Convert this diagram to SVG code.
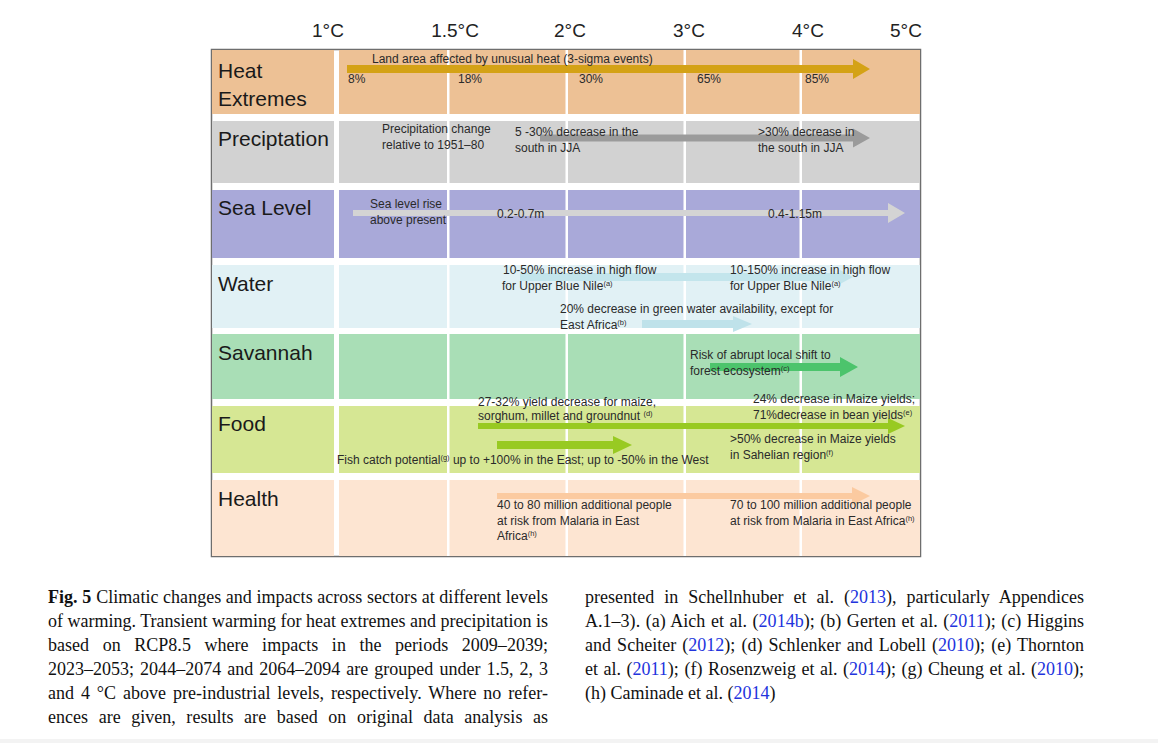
<svg xmlns="http://www.w3.org/2000/svg" width="1158" height="743" viewBox="0 0 1158 743">
<style>
.ax{font-family:"Liberation Sans",Arial,sans-serif;font-size:19px;fill:#222;text-anchor:middle}
.rl{font-family:"Liberation Sans",Arial,sans-serif;font-size:21px;fill:#1a1a1a}
.t{font-family:"Liberation Sans",Arial,sans-serif;font-size:12px;fill:#2a2a2a}
.sup{font-size:7.5px}
.cap{font-family:"Liberation Serif","Times New Roman",serif;font-size:18px;fill:#111}
.lk{fill:#2233dd}
.vl{fill:#ffffff}
</style>
<rect x="0" y="0" width="1158" height="743" fill="#ffffff"/>
<rect x="0" y="739" width="1158" height="4" fill="#f3f3f3"/>

<g id="axis">
<text class="ax" x="328" y="37">1°C</text>
<text class="ax" x="455" y="37">1.5°C</text>
<text class="ax" x="570" y="37">2°C</text>
<text class="ax" x="689" y="37">3°C</text>
<text class="ax" x="808" y="37">4°C</text>
<text class="ax" x="906" y="37">5°C</text>
</g>

<g id="panel">
<rect x="211.5" y="49.5" width="709" height="507" fill="#ffffff" stroke="#6e6e6e" stroke-width="1.5"/>
</g>

<g id="row-heat">
<rect x="212" y="50" width="122" height="64" fill="#EDC195"/>
<rect x="339" y="50" width="581" height="64" fill="#EDC195"/>
<text class="rl" x="218" y="78">Heat</text>
<text class="rl" x="218" y="106">Extremes</text>
</g>
<g id="row-precip">
<rect x="212" y="121" width="122" height="62" fill="#D2D2D2"/>
<rect x="339" y="121" width="581" height="62" fill="#D2D2D2"/>
<text class="rl" x="218" y="146">Preciptation</text>
</g>
<g id="row-sea">
<rect x="212" y="190" width="122" height="68" fill="#A9A9D9"/>
<rect x="339" y="190" width="581" height="68" fill="#A9A9D9"/>
<text class="rl" x="218" y="215">Sea Level</text>
</g>
<g id="row-water">
<rect x="212" y="265" width="122" height="63" fill="#E1F1F5"/>
<rect x="339" y="265" width="581" height="63" fill="#E1F1F5"/>
<text class="rl" x="218" y="291">Water</text>
</g>
<g id="row-savannah">
<rect x="212" y="334" width="122" height="65" fill="#A9DEB6"/>
<rect x="339" y="334" width="581" height="65" fill="#A9DEB6"/>
<text class="rl" x="218" y="360">Savannah</text>
</g>
<g id="row-food">
<rect x="212" y="406" width="122" height="67" fill="#D6E794"/>
<rect x="339" y="406" width="581" height="67" fill="#D6E794"/>
<text class="rl" x="218" y="431">Food</text>
</g>
<g id="row-health">
<rect x="212" y="480" width="122" height="76" fill="#FDE5D2"/>
<rect x="339" y="480" width="581" height="76" fill="#FDE5D2"/>
<text class="rl" x="218" y="506">Health</text>
</g>

<g id="gridlines">
<rect class="vl" x="447" y="50" width="2.5" height="506"/>
<rect class="vl" x="565.5" y="50" width="2.5" height="506"/>
<rect class="vl" x="683.5" y="50" width="2.5" height="506"/>
<rect class="vl" x="799.5" y="50" width="2.5" height="506"/>
</g>

<g id="connectors">
<path d="M347,65 L853,65 L853,59 L870,69 L853,79 L853,73 L347,73 Z" fill="#D4A216"/>
<path d="M540,134.5 L853,134.5 L853,128.5 L870,138 L853,147.5 L853,141.5 L540,141.5 Z" fill="#9B9B9B"/>
<path d="M353,210 L888,210 L888,203 L905,213 L888,223 L888,216 L353,216 Z" fill="#D4D4D4"/>
<path d="M520,273 L840,273 L840,270 L853,277 L840,284 L840,281 L520,281 Z" fill="#C3E5EC"/>
<path d="M642,320 L733,320 L733,316 L752,324 L733,332 L733,328 L642,328 Z" fill="#BFE2EA"/>
<path d="M710,363 L840,363 L840,357 L858,367 L840,377 L840,371 L710,371 Z" fill="#4CC46C"/>
<path d="M478,423 L888,423 L888,418 L905,426 L888,434 L888,429 L478,429 Z" fill="#98CA22"/>
<path d="M497,441 L613,441 L613,436 L632,445 L613,454 L613,449 L497,449 Z" fill="#98CA22"/>
<path d="M497,493 L852,493 L852,487 L870,496 L852,505 L852,499 L497,499 Z" fill="#FBCAA0"/>
</g>

<g id="text-heat">
<text class="t" x="372" y="63">Land area affected by unusual heat (3-sigma events)</text>
<text class="t" x="348" y="83">8%</text>
<text class="t" x="458" y="83">18%</text>
<text class="t" x="579" y="83">30%</text>
<text class="t" x="697" y="83">65%</text>
<text class="t" x="805" y="83">85%</text>
</g>
<g id="text-precip">
<text class="t" x="382" y="133">Precipitation change</text>
<text class="t" x="382" y="149">relative to 1951–80</text>
<text class="t" x="515" y="136">5 -30% decrease in the</text>
<text class="t" x="515" y="152">south in JJA</text>
<text class="t" x="758" y="136">&gt;30% decrease in</text>
<text class="t" x="758" y="152">the south in JJA</text>
</g>
<g id="text-sea">
<text class="t" x="370" y="208">Sea level rise</text>
<text class="t" x="370" y="224">above present</text>
<text class="t" x="497" y="218">0.2-0.7m</text>
<text class="t" x="768" y="218">0.4-1.15m</text>
</g>
<g id="text-water">
<text class="t" x="503" y="274">10-50% increase in high flow</text>
<text class="t" x="502" y="290">for Upper Blue Nile<tspan class="sup" dy="-4">(a)</tspan></text>
<text class="t" x="730" y="274">10-150% increase in high flow</text>
<text class="t" x="730" y="290">for Upper Blue Nile<tspan class="sup" dy="-4">(a)</tspan></text>
<text class="t" x="560" y="313">20% decrease in green water availability, except for</text>
<text class="t" x="560" y="329">East Africa<tspan class="sup" dy="-4">(b)</tspan></text>
</g>
<g id="text-savannah">
<text class="t" x="690" y="359">Risk of abrupt local shift to</text>
<text class="t" x="690" y="375">forest ecosystem<tspan class="sup" dy="-4">(c)</tspan></text>
</g>
<g id="text-food">
<text class="t" x="478" y="406">27-32% yield decrease for maize,</text>
<text class="t" x="478" y="420">sorghum, millet and groundnut <tspan class="sup" dy="-4">(d)</tspan></text>
<text class="t" x="753" y="403">24% decrease in Maize yields;</text>
<text class="t" x="753" y="419">71%decrease in bean yields<tspan class="sup" dy="-4">(e)</tspan></text>
<text class="t" x="730" y="443">&gt;50% decrease in Maize yields</text>
<text class="t" x="730" y="459">in Sahelian region<tspan class="sup" dy="-4">(f)</tspan></text>
<text class="t" x="337" y="464">Fish catch potential<tspan class="sup" dy="-4">(g)</tspan><tspan dy="4"> up to +100% in the  East; up to -50% in the West</tspan></text>
</g>
<g id="text-health">
<text class="t" x="497" y="509">40 to 80 million additional people</text>
<text class="t" x="497" y="525">at risk from Malaria in East</text>
<text class="t" x="497" y="540">Africa<tspan class="sup" dy="-4">(h)</tspan></text>
<text class="t" x="730" y="509">70 to 100 million additional people</text>
<text class="t" x="730" y="525">at risk from Malaria in East Africa<tspan class="sup" dy="-4">(h)</tspan></text>
</g>

<g id="caption">
<text class="cap" x="48" y="603" textLength="500" lengthAdjust="spacing"><tspan font-weight="bold">Fig. 5</tspan><tspan dx="5">Climatic changes and impacts across sectors at different levels</tspan></text>
<text class="cap" x="48" y="627" textLength="500" lengthAdjust="spacing">of warming. Transient warming for heat extremes and precipitation is</text>
<text class="cap" x="48" y="651" textLength="500" lengthAdjust="spacing" word-spacing="9">based on RCP8.5 where impacts in the periods 2009–2039;</text>
<text class="cap" x="48" y="675" textLength="500" lengthAdjust="spacing" word-spacing="1.5">2023–2053; 2044–2074 and 2064–2094 are grouped under 1.5, 2, 3</text>
<text class="cap" x="48" y="699" textLength="500" lengthAdjust="spacing" word-spacing="2.3">and 4 °C above pre-industrial levels, respectively. Where no refer-</text>
<text class="cap" x="48" y="723" textLength="500" lengthAdjust="spacing" word-spacing="6">ences are given, results are based on original data analysis as</text>
<text class="cap" x="585" y="603" textLength="499" lengthAdjust="spacing" word-spacing="5.4">presented in Schellnhuber et al. (<tspan class="lk">2013</tspan>), particularly Appendices</text>
<text class="cap" x="585" y="627" textLength="499" lengthAdjust="spacing" word-spacing="1">A.1–3). (a) Aich et al. (<tspan class="lk">2014b</tspan>); (b) Gerten et al. (<tspan class="lk">2011</tspan>); (c) Higgins</text>
<text class="cap" x="585" y="651" textLength="499" lengthAdjust="spacing" word-spacing="1.6">and Scheiter (<tspan class="lk">2012</tspan>); (d) Schlenker and Lobell (<tspan class="lk">2010</tspan>); (e) Thornton</text>
<text class="cap" x="585" y="675" textLength="499" lengthAdjust="spacing" word-spacing="1">et al. (<tspan class="lk">2011</tspan>); (f) Rosenzweig et al. (<tspan class="lk">2014</tspan>); (g) Cheung et al. (<tspan class="lk">2010</tspan>);</text>
<text class="cap" x="585" y="699">(h) Caminade et al. (<tspan class="lk">2014</tspan>)</text>
</g>
</svg>
